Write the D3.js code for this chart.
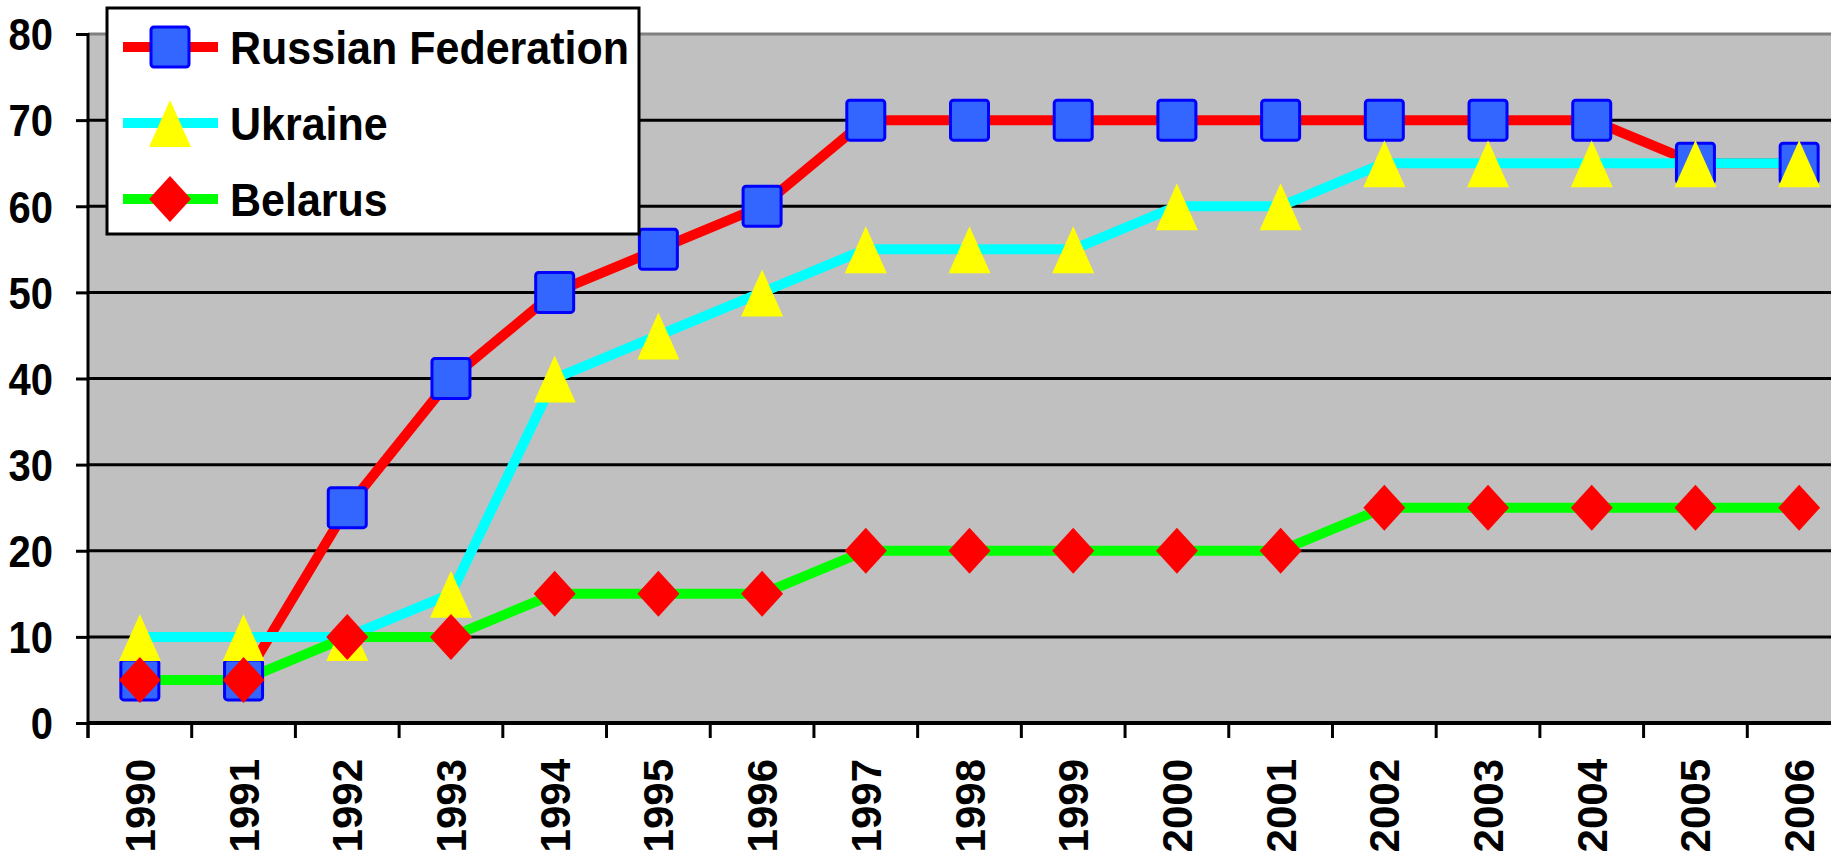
<!DOCTYPE html>
<html><head><meta charset="utf-8">
<script src="https://cdn.jsdelivr.net/npm/d3@7"></script>
<style>
body{margin:0;background:#fff;overflow:hidden}
svg{display:block}
text{font-family:"Liberation Sans",Arial,sans-serif;font-weight:bold;fill:#000}
</style>
</head><body>
<svg id="c" width="1831" height="858"></svg>
<script>
const years = ["1990","1991","1992","1993","1994","1995","1996","1997","1998","1999","2000","2001","2002","2003","2004","2005","2006"];
const russia  = [5,5,25,40,50,55,60,70,70,70,70,70,70,70,70,65,65];
const ukraine = [10,10,10,15,40,45,50,55,55,55,60,60,65,65,65,65,65];
const belarus = [5,5,10,10,15,15,15,20,20,20,20,20,25,25,25,25,25];
const yTicks = [0,10,20,30,40,50,60,70,80];
const seriesNames = ["Russian Federation","Ukraine","Belarus"];

const svg = d3.select("#c");
const L = 88, R = 1851, T = 34, B = 723;
const x = d3.scaleBand().domain(years).range([L, R]).padding(0);
const y = d3.scaleLinear().domain([0, 80]).range([B, T]);

// plot background
svg.append("rect").attr("x", L).attr("y", T).attr("width", R - L).attr("height", B - T).attr("fill", "#c0c0c0");

// gridlines
svg.append("g").selectAll("line").data(yTicks.filter(d => d > 0 && d < 80)).join("line")
  .attr("x1", L).attr("x2", R).attr("y1", d => y(d)).attr("y2", d => y(d))
  .attr("stroke", "#000").attr("stroke-width", 3);
// top border
svg.append("line").attr("x1", L).attr("x2", R).attr("y1", y(80)).attr("y2", y(80))
  .attr("stroke", "#808080").attr("stroke-width", 3);

// y axis
const ya = svg.append("g").attr("transform", `translate(${L},0)`)
  .call(d3.axisLeft(y).tickValues(yTicks).tickSize(12).tickPadding(23));
ya.select(".domain").remove();
ya.selectAll(".tick line").attr("stroke", "#000").attr("stroke-width", 3);
ya.selectAll(".tick text").attr("font-size", 40).attr("font-family", null)
  .attr("dy", "0.36em").attr("y", 0).attr("x", 0)
  .attr("transform", "translate(-35,0) scale(1,1.1)");
svg.append("line").attr("x1", L).attr("x2", L).attr("y1", T - 1).attr("y2", B + 15)
  .attr("stroke", "#000").attr("stroke-width", 3);

// x axis
svg.append("line").attr("x1", L).attr("x2", R).attr("y1", B).attr("y2", B)
  .attr("stroke", "#000").attr("stroke-width", 4);
svg.append("g").selectAll("line").data(years).join("line")
  .attr("x1", d => x(d)).attr("x2", d => x(d)).attr("y1", B).attr("y2", B + 15)
  .attr("stroke", "#000").attr("stroke-width", 3);
const xa = svg.append("g").attr("transform", `translate(0,${B})`)
  .call(d3.axisBottom(x).tickSize(0).tickPadding(0));
xa.select(".domain").remove();
xa.selectAll(".tick text")
  .attr("font-size", 42).attr("font-family", null)
  .attr("text-anchor", "end").attr("dy", null).attr("y", null)
  .attr("transform", "translate(0,36) rotate(-90) translate(0,15)");

// lines
const series = [
  {name: seriesNames[0], values: russia,  line: "#ff0000", marker: "square"},
  {name: seriesNames[1], values: ukraine, line: "#00ffff", marker: "triangle"},
  {name: seriesNames[2], values: belarus, line: "#00ff00", marker: "diamond"}
];
const lineGen = d3.line().x((d, i) => x(years[i]) + x.bandwidth() / 2).y(d => y(d));
series.forEach(s => {
  svg.append("path").datum(s.values).attr("d", lineGen)
    .attr("fill", "none").attr("stroke", s.line).attr("stroke-width", 10)
    .attr("stroke-linejoin", "round");
});

function drawMarker(g, type, cx, cy) {
  if (type === "square") {
    g.append("rect").attr("x", cx - 19).attr("y", cy - 20).attr("width", 38).attr("height", 40)
      .attr("rx", 3).attr("fill", "#3366ff").attr("stroke", "#0000ff").attr("stroke-width", 3);
  } else if (type === "triangle") {
    g.append("path").attr("d", `M${cx},${cy - 23}L${cx + 21},${cy + 24}L${cx - 21},${cy + 24}Z`)
      .attr("fill", "#ffff00");
  } else {
    g.append("path").attr("d", `M${cx},${cy - 23}L${cx + 21},${cy}L${cx},${cy + 23}L${cx - 21},${cy}Z`)
      .attr("fill", "#ff0000");
  }
}
series.forEach(s => {
  const g = svg.append("g");
  s.values.forEach((v, i) => drawMarker(g, s.marker, x(years[i]) + x.bandwidth() / 2, y(v)));
});

// legend
const lg = svg.append("g");
lg.append("rect").attr("x", 107).attr("y", 8).attr("width", 532).attr("height", 226)
  .attr("fill", "#fff").attr("stroke", "#000").attr("stroke-width", 3);
const rowsY = [47, 123, 199];
series.forEach((s, i) => {
  const cy = rowsY[i];
  lg.append("line").attr("x1", 123).attr("x2", 218).attr("y1", cy).attr("y2", cy)
    .attr("stroke", s.line).attr("stroke-width", 10);
  drawMarker(lg, s.marker, 170, cy);
  lg.append("text").attr("transform", `translate(230,${cy}) scale(1,1.08)`)
    .attr("dy", "0.36em").attr("font-size", 43).text(s.name);
});
</script>
</body></html>
